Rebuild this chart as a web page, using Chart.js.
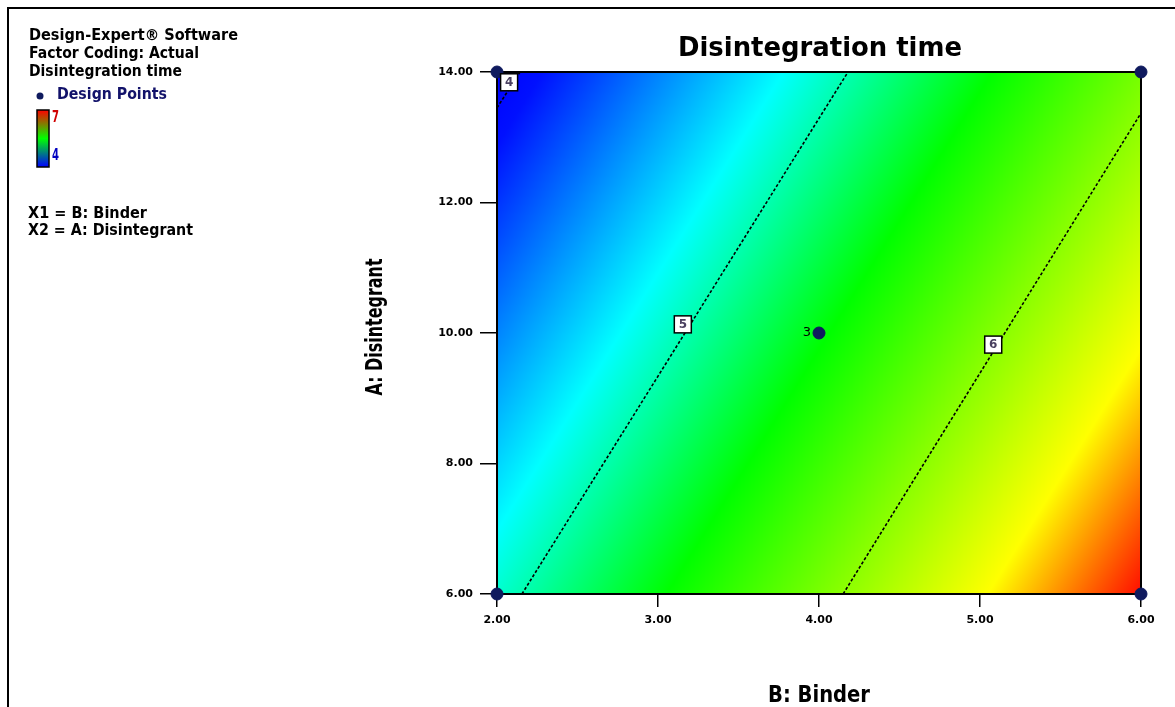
<!DOCTYPE html>
<html>
<head>
<meta charset="utf-8">
<script src="https://cdn.jsdelivr.net/npm/chart.js@4.4.1/dist/chart.umd.min.js"></script>
<style>
  html, body { margin: 0; padding: 0; background: #fff; }
  canvas { display: block; }
</style>
</head>
<body>
<canvas id="chart" width="1175" height="707"></canvas>
<script>
// design points (B: Binder, A: Disintegrant)
const binderPts = [2, 2, 6, 6, 4];
const disintPts = [6, 14, 6, 14, 10];
const replicates = [1, 1, 1, 1, 3];

// contour lines
const contourLevels = [4, 5, 6];
const contourB = [[2.0, 2.143], [2.155, 4.18], [4.15, 6.0]];
const contourA = [[13.45, 14.0], [6.0, 14.0], [6.0, 13.37]];
const labelB = [2.072, 3.151, 5.079];
const labelA = [13.85, 10.14, 9.83];

// colour ramp of the response surface
const rampLevels = [3.9, 4.05, 4.8, 5.45, 6.45, 6.92];
const rampColors = ["#0000ff", "#0010ff", "#00ffff", "#00ff00", "#ffff00", "#ff1000"];

const xTicks = [2, 3, 4, 5, 6];
const yTicks = [6, 8, 10, 12, 14];

const navy = "#0f1a5e";
const heavy = '"DejaVu Sans", sans-serif';

function fitText(ctx, text, x, y, font, width, color, align) {
  ctx.save();
  ctx.font = font;
  ctx.fillStyle = color;
  ctx.textAlign = "left";
  ctx.textBaseline = "alphabetic";
  const w = ctx.measureText(text).width;
  const left = align === "center" ? x - width / 2 : x;
  ctx.translate(left, y);
  ctx.scale(width / w, 1);
  ctx.fillText(text, 0, 0);
  ctx.restore();
}

const surfacePlugin = {
  id: "surface",
  beforeDatasetsDraw(chart) {
    const { ctx, chartArea: a, scales } = chart;
    const xs = scales.x, ys = scales.y;
    // contours 5 and 6 give direction and spacing of the iso lines
    const i5 = contourLevels.indexOf(5), i6 = contourLevels.indexOf(6);
    const p0 = { x: xs.getPixelForValue(contourB[i5][0]), y: ys.getPixelForValue(contourA[i5][0]) };
    const p1 = { x: xs.getPixelForValue(contourB[i5][1]), y: ys.getPixelForValue(contourA[i5][1]) };
    const q0 = { x: xs.getPixelForValue(contourB[i6][0]), y: ys.getPixelForValue(contourA[i6][0]) };
    let dx = p1.x - p0.x, dy = p1.y - p0.y;
    const len = Math.hypot(dx, dy);
    dx /= len; dy /= len;
    const nx = -dy, ny = dx;
    const step = (q0.x - p0.x) * nx + (q0.y - p0.y) * ny;
    const lo = rampLevels[0], hi = rampLevels[rampLevels.length - 1];
    const g = ctx.createLinearGradient(
      p0.x + nx * step * (lo - 5), p0.y + ny * step * (lo - 5),
      p0.x + nx * step * (hi - 5), p0.y + ny * step * (hi - 5));
    rampLevels.forEach((v, i) => g.addColorStop((v - lo) / (hi - lo), rampColors[i]));
    ctx.save();
    ctx.fillStyle = g;
    ctx.fillRect(a.left, a.top, a.right - a.left, a.bottom - a.top);
    ctx.strokeStyle = "#000";
    ctx.lineWidth = 2;
    ctx.strokeRect(a.left, a.top, a.right - a.left, a.bottom - a.top);
    ctx.restore();
  },
  afterDatasetsDraw(chart) {
    const { ctx, scales } = chart;
    ctx.save();
    contourLevels.forEach((lv, i) => {
      const x = scales.x.getPixelForValue(labelB[i]);
      const y = scales.y.getPixelForValue(labelA[i]);
      ctx.fillStyle = "#fff";
      ctx.fillRect(x - 8, y - 8, 17, 17);
      ctx.strokeStyle = "#000";
      ctx.lineWidth = 1.5;
      ctx.strokeRect(x - 8, y - 8, 17, 17);
      ctx.fillStyle = "#4a4060";
      ctx.font = "bold 12px " + heavy;
      ctx.textAlign = "center";
      ctx.textBaseline = "middle";
      ctx.fillText(String(lv), x + 0.5, y + 1);
    });
    // replicate count next to the centre point
    replicates.forEach((n, i) => {
      if (n < 2) return;
      const x = scales.x.getPixelForValue(binderPts[i]);
      const y = scales.y.getPixelForValue(disintPts[i]);
      ctx.fillStyle = "#000";
      ctx.font = "13px " + heavy;
      ctx.textAlign = "right";
      ctx.textBaseline = "middle";
      ctx.fillText(String(n), x - 8, y);
    });
    ctx.restore();
  },
  afterDraw(chart) {
    const ctx = chart.ctx;
    const f = "bold 16px " + heavy;
    ctx.save();
    // outer frame
    ctx.fillStyle = "#000";
    ctx.fillRect(7, 7, 2, 700);
    ctx.fillRect(7, 7, 1168, 2);

    fitText(ctx, "Design-Expert® Software", 29, 40, f, 209, "#000");
    fitText(ctx, "Factor Coding: Actual", 29, 58, f, 170, "#000");
    fitText(ctx, "Disintegration time", 29, 76, f, 153, "#000");
    ctx.fillStyle = navy;
    ctx.beginPath();
    ctx.arc(40, 96, 3.5, 0, Math.PI * 2);
    ctx.fill();
    fitText(ctx, "Design Points", 57, 99, f, 110, "#12126a");

    const cb = ctx.createLinearGradient(0, 110, 0, 167);
    cb.addColorStop(0, "#ff0000");
    cb.addColorStop(0.5, "#00ff00");
    cb.addColorStop(1, "#0000ff");
    ctx.fillStyle = cb;
    ctx.fillRect(37, 110, 12, 57);
    ctx.strokeStyle = "#000";
    ctx.lineWidth = 1.5;
    ctx.strokeRect(37, 110, 12, 57);
    fitText(ctx, "7", 52, 122, "bold 16px " + heavy, 7, "#d00000");
    fitText(ctx, "4", 52, 160, "bold 16px " + heavy, 7, "#0000c0");

    fitText(ctx, "X1 = B: Binder", 28, 218, f, 119, "#000");
    fitText(ctx, "X2 = A: Disintegrant", 28, 235, f, 165, "#000");

    fitText(ctx, "Disintegration time", 820, 56, "bold 27px " + heavy, 284, "#000", "center");
    fitText(ctx, "B: Binder", 819, 702, "bold 23px " + heavy, 102, "#000", "center");
    ctx.save();
    ctx.translate(382, 327);
    ctx.rotate(-Math.PI / 2);
    fitText(ctx, "A: Disintegrant", 0, 0, "bold 23px " + heavy, 137, "#000", "center");
    ctx.restore();
    ctx.restore();
  }
};

const datasets = [{
  label: "Design Points",
  data: binderPts.map((b, i) => ({ x: b, y: disintPts[i] })),
  pointRadius: 6,
  pointHoverRadius: 6,
  backgroundColor: navy,
  borderColor: navy,
  showLine: false,
  clip: false
}];
contourLevels.forEach((lv, i) => {
  datasets.push({
    label: "Contour " + lv,
    data: contourB[i].map((b, j) => ({ x: b, y: contourA[i][j] })),
    showLine: true,
    borderColor: "#000",
    borderWidth: 1.6,
    borderDash: [3, 2],
    pointRadius: 0,
    fill: false
  });
});

new Chart(document.getElementById("chart"), {
  type: "scatter",
  data: { datasets },
  plugins: [surfacePlugin],
  options: {
    responsive: false,
    animation: false,
    devicePixelRatio: 1,
    layout: { padding: { top: 72, right: 34, left: 0, bottom: 0 } },
    plugins: { legend: { display: false }, tooltip: { enabled: false }, title: { display: false } },
    scales: {
      x: {
        type: "linear",
        min: 2, max: 6,
        afterBuildTicks: s => { s.ticks = xTicks.map(v => ({ value: v })); },
        afterFit: s => { s.height = 113; },
        grid: { drawOnChartArea: false, color: "#000", lineWidth: 1.5, tickLength: 13 },
        border: { color: "#000", width: 2 },
        ticks: {
          color: "#000",
          padding: 7,
          maxRotation: 0,
          font: { family: '"DejaVu Sans"', size: 11, weight: "bold" },
          callback: v => Number(v).toFixed(2)
        }
      },
      y: {
        type: "linear",
        min: 6, max: 14,
        afterBuildTicks: s => { s.ticks = yTicks.map(v => ({ value: v })); },
        afterFit: s => { s.width = 497; },
        grid: { drawOnChartArea: false, color: "#000", lineWidth: 1.5, tickLength: 17 },
        border: { color: "#000", width: 2 },
        ticks: {
          color: "#000",
          padding: 7,
          font: { family: '"DejaVu Sans"', size: 11, weight: "bold" },
          callback: v => Number(v).toFixed(2)
        }
      }
    }
  }
});
</script>
</body>
</html>
